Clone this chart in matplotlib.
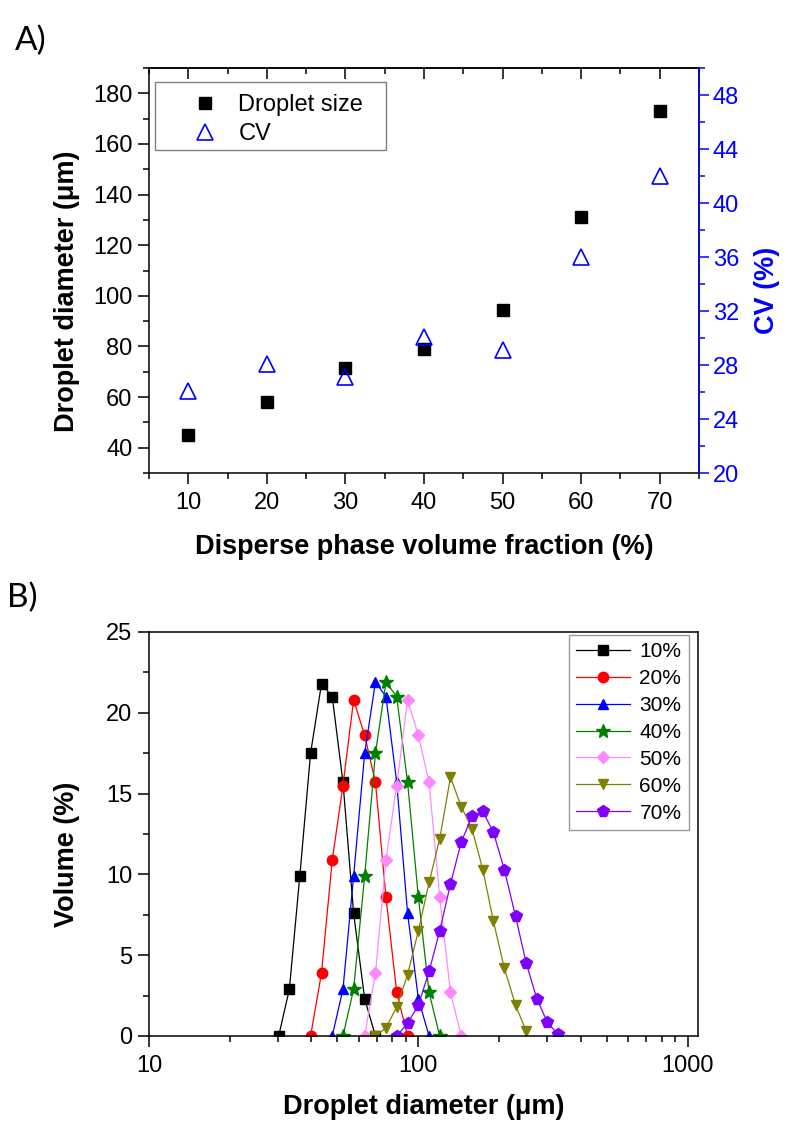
import matplotlib
matplotlib.use('Agg')
import matplotlib.pyplot as plt
from matplotlib.patches import Rectangle
from matplotlib.ticker import MultipleLocator, LogLocator, NullFormatter

plt.rcParams['font.family'] = ['Liberation Sans', 'DejaVu Sans']

# panel A data
fraction = [10, 20, 30, 40, 50, 60, 70]
droplet_size = [45.2, 58.0, 71.3, 78.8, 94.3, 131.0, 173.0]
cv = [26.1, 28.1, 27.1, 30.1, 29.1, 36.0, 42.0]

# panel B data (volume distributions)
labels = ['10%', '20%', '30%', '40%', '50%', '60%', '70%']
x10 = [30.3, 33.2, 36.3, 39.8, 43.7, 47.9, 52.5, 57.5, 63.2, 69.3]
y10 = [0, 2.9, 9.9, 17.5, 21.8, 21.0, 15.7, 7.6, 2.3, 0]
x20 = [39.8, 43.7, 47.9, 52.5, 57.5, 63.2, 69.3, 75.8, 83.1, 91.2]
y20 = [0, 3.9, 10.9, 15.5, 20.8, 18.6, 15.7, 8.6, 2.7, 0]
x30 = [47.9, 52.5, 57.5, 63.2, 69.3, 75.8, 83.1, 91.2, 100, 109.6]
y30 = [0, 2.9, 9.9, 17.5, 21.9, 21.0, 15.7, 7.6, 2.3, 0]
x40 = [52.5, 57.5, 63.2, 69.3, 75.8, 83.1, 91.2, 100, 109.6, 120]
y40 = [0, 2.9, 9.9, 17.5, 21.9, 21.0, 15.7, 8.6, 2.7, 0]
x50 = [63.2, 69.3, 75.8, 83.1, 91.2, 100, 109.6, 120, 131.6, 144.3]
y50 = [0, 3.9, 10.9, 15.5, 20.8, 18.6, 15.7, 8.6, 2.7, 0]
x60 = [69.3, 75.8, 83.1, 91.2, 100, 109.6, 120, 131.6, 144.3, 158.3,
       173.5, 190, 208.5, 229.6, 251.5]
y60 = [0, 0.5, 1.8, 3.8, 6.5, 9.5, 12.2, 16.0, 14.2, 12.8,
       10.3, 7.1, 4.2, 1.9, 0.3]
x70 = [83.1, 91.2, 100, 109.6, 120, 131.6, 144.3, 158.3, 173.5, 190,
       208.5, 229.6, 251.5, 275.5, 301, 330]
y70 = [0, 0.8, 1.9, 4.0, 6.5, 9.4, 12.0, 13.6, 13.9, 12.6,
       10.3, 7.4, 4.5, 2.3, 0.85, 0.1]

xs = [x10, x20, x30, x40, x50, x60, x70]
ys = [y10, y20, y30, y40, y50, y60, y70]
colors = ['black', '#FF0000', '#0000FF', '#008000', '#FF88FF', '#808000', '#8000FF']
markers = ['s', 'o', '^', '*', 'D', 'v', 'p']
msizes = [6.5, 7.5, 7.5, 10, 6, 7.5, 8.5]

fig = plt.figure(figsize=(8.05, 11.24), dpi=100)

# ---------------- panel A ----------------
ax1 = fig.add_axes([149/805, 1-473/1124, 550/805, 405/1124])
ax2 = ax1.twinx()

ax1.plot(fraction, droplet_size, 's', color='black', markersize=8.6, label='Droplet size')
ax2.plot(fraction, cv, '^', markerfacecolor='none', markeredgecolor='#0000FF',
         markeredgewidth=1.2, markersize=12, label='CV')

ax1.set_xlim(5, 75)
ax1.set_ylim(30, 190)
ax2.set_ylim(20, 50)
ax1.xaxis.set_major_locator(MultipleLocator(10))
ax1.xaxis.set_minor_locator(MultipleLocator(5))
ax1.yaxis.set_minor_locator(MultipleLocator(10))
ax1.set_yticks([40, 60, 80, 100, 120, 140, 160, 180])
ax2.yaxis.set_minor_locator(MultipleLocator(2))
ax2.set_yticks([20, 24, 28, 32, 36, 40, 44, 48])

ax1.tick_params(which='major', direction='out', length=8, width=1.1, labelsize=17, pad=4)
ax1.tick_params(which='minor', direction='out', length=4, width=1.1)
ax1.tick_params(axis='x', pad=6)
ax2.tick_params(which='major', direction='out', length=7, width=1.1, labelsize=17,
                colors='#0000FF', pad=3)
ax2.tick_params(which='minor', direction='out', length=4, width=1.1, colors='#0000FF')

for s in ax1.spines.values():
    s.set_linewidth(1.1)
ax2.spines['right'].set_color('#0000FF')
ax2.spines['right'].set_linewidth(1.1)
for side in ['left', 'top', 'bottom']:
    ax2.spines[side].set_visible(False)

top = ax1.secondary_xaxis('top')
top.xaxis.set_major_locator(MultipleLocator(10))
top.xaxis.set_minor_locator(MultipleLocator(5))
top.tick_params(which='major', direction='in', length=8, width=1.1, labeltop=False)
top.tick_params(which='minor', direction='in', length=4, width=1.1)
top.spines['top'].set_linewidth(1.1)

ax1.set_xlabel('Disperse phase volume fraction (%)', fontsize=19.5, fontweight='bold')
ax1.set_ylabel('Droplet diameter (\u03bcm)', fontsize=19.5, fontweight='bold')
ax2.set_ylabel('CV (%)', fontsize=19.5, fontweight='bold', color='#0000FF')
ax1.yaxis.set_label_coords(-0.125, 0.45)
ax2.yaxis.set_label_coords(1.1, 0.45)
ax1.xaxis.set_label_coords(0.5, -0.15)

h1, l1 = ax1.get_legend_handles_labels()
h2, l2 = ax2.get_legend_handles_labels()
leg = ax2.legend(h1 + h2, l1 + l2, loc='upper left', bbox_to_anchor=(0.0589, 0.936),
                 fontsize=17, frameon=False, borderpad=0, handletextpad=0.41,
                 labelspacing=0.3, handlelength=2.0, borderaxespad=0)
ax2.add_patch(Rectangle((6/550, 323/405), 231/550, 68/405, transform=ax2.transAxes,
                        facecolor='none', edgecolor='#808080', linewidth=1.0,
                        clip_on=False, zorder=1))

fig.text(15/805, 1-50/1124, 'A)', fontsize=24, va='baseline', family=['Lato', 'DejaVu Sans'])

# ---------------- panel B ----------------
bx = fig.add_axes([149/805, 1-1036/1124, 549/805, 404/1124])
for i in range(len(labels)):
    bx.plot(xs[i], ys[i], '-', marker=markers[i], color=colors[i], markersize=msizes[i],
            linewidth=0.9, label=labels[i])

bx.set_xscale('log')
bx.set_xlim(10, 1092)
bx.set_ylim(0, 25)
bx.xaxis.set_minor_locator(LogLocator(base=10, subs=range(2, 10), numticks=20))
bx.xaxis.set_minor_formatter(NullFormatter())
bx.set_xticks([10, 100, 1000])
bx.set_xticklabels(['10', '100', '1000'])
bx.yaxis.set_major_locator(MultipleLocator(5))
bx.yaxis.set_minor_locator(MultipleLocator(2.5))
bx.tick_params(which='major', direction='out', length=8, width=1.1, labelsize=17, pad=4)
bx.tick_params(which='minor', direction='out', length=4, width=1.1)
bx.tick_params(axis='x', pad=6)
for s in bx.spines.values():
    s.set_linewidth(1.1)

bx.set_xlabel('Droplet diameter (\u03bcm)', fontsize=19.5, fontweight='bold')
bx.set_ylabel('Volume (%)', fontsize=19.5, fontweight='bold')
bx.xaxis.set_label_coords(0.5, -0.143)
bx.yaxis.set_label_coords(-0.125, 0.45)

leg2 = bx.legend(loc='upper right', bbox_to_anchor=(0.983, 0.993), fontsize=15,
                 fancybox=False, borderpad=0.35, handletextpad=0.45,
                 labelspacing=0.38, handlelength=2.6, borderaxespad=0)
leg2.get_frame().set_edgecolor('#808080')
leg2.get_frame().set_linewidth(1.0)

fig.text(7/805, 1-607/1124, 'B)', fontsize=24, va='baseline', family=['Lato', 'DejaVu Sans'])

plt.savefig('out.png', dpi=100)
